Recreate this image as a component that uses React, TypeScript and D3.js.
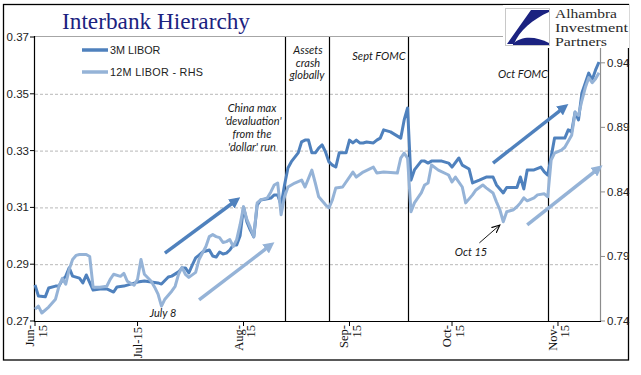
import React from "react";
import * as d3 from "d3";

// ---------- data ----------
const titleText = "Interbank Hierarchy";
const seriesNames = ["3M LIBOR", "12M LIBOR - RHS"];
const leftTicks = [0.27, 0.29, 0.31, 0.33, 0.35, 0.37];
const rightTicks = [0.74, 0.79, 0.84, 0.89, 0.94];
const monthTicks = ["2015-06-01", "2015-07-01", "2015-08-01", "2015-09-01", "2015-10-01", "2015-11-01"];
const monthLabels = [["Jun-", "15"], ["Jul-15"], ["Aug-", "15"], ["Sep-", "15"], ["Oct-", "15"], ["Nov-", "15"]];
const logoLines = ["Alhambra", "Investment", "Partners"];

const libor3m: [string, number][] = [
  ["2015-06-01", 0.2827], ["2015-06-02", 0.2788], ["2015-06-04", 0.2785], ["2015-06-05", 0.2816],
  ["2015-06-07", 0.2823], ["2015-06-08", 0.2823], ["2015-06-09", 0.2844], ["2015-06-10", 0.2858],
  ["2015-06-11", 0.2887], ["2015-06-12", 0.2858], ["2015-06-14", 0.2851], ["2015-06-15", 0.2834],
  ["2015-06-16", 0.2862], ["2015-06-18", 0.2809], ["2015-06-20", 0.2813], ["2015-06-22", 0.2813],
  ["2015-06-24", 0.2802], ["2015-06-25", 0.282], ["2015-06-27", 0.2823], ["2015-06-29", 0.283],
  ["2015-07-01", 0.2837], ["2015-07-03", 0.2841], ["2015-07-05", 0.2837], ["2015-07-07", 0.2834],
  ["2015-07-08", 0.283], ["2015-07-10", 0.2855], ["2015-07-11", 0.2858], ["2015-07-13", 0.2873],
  ["2015-07-14", 0.2887], ["2015-07-15", 0.2887], ["2015-07-16", 0.2869], ["2015-07-17", 0.2897],
  ["2015-07-18", 0.2922], ["2015-07-19", 0.2932], ["2015-07-20", 0.2943], ["2015-07-22", 0.295],
  ["2015-07-23", 0.2929], ["2015-07-24", 0.2925], ["2015-07-25", 0.2943], ["2015-07-26", 0.2936],
  ["2015-07-27", 0.2939], ["2015-07-28", 0.295], ["2015-07-29", 0.2968], ["2015-07-30", 0.2968],
  ["2015-07-31", 0.3], ["2015-08-01", 0.3101], ["2015-08-02", 0.3049], ["2015-08-03", 0.302],
  ["2015-08-04", 0.2996], ["2015-08-05", 0.3108], ["2015-08-06", 0.3126], ["2015-08-08", 0.313],
  ["2015-08-09", 0.3133], ["2015-08-10", 0.3144], ["2015-08-11", 0.3144], ["2015-08-12", 0.3108],
  ["2015-08-13", 0.3179], ["2015-08-14", 0.3239], ["2015-08-15", 0.3261], ["2015-08-17", 0.3292],
  ["2015-08-18", 0.3331], ["2015-08-19", 0.3337], ["2015-08-20", 0.3337], ["2015-08-21", 0.3292],
  ["2015-08-22", 0.3292], ["2015-08-23", 0.3309], ["2015-08-24", 0.332], ["2015-08-25", 0.3295],
  ["2015-08-26", 0.326], ["2015-08-27", 0.3249], ["2015-08-28", 0.3242], ["2015-08-29", 0.3292],
  ["2015-08-30", 0.3292], ["2015-08-31", 0.3292], ["2015-09-01", 0.3337], ["2015-09-02", 0.3327],
  ["2015-09-03", 0.3337], ["2015-09-04", 0.3327], ["2015-09-05", 0.3327], ["2015-09-06", 0.333],
  ["2015-09-08", 0.3327], ["2015-09-09", 0.3337], ["2015-09-10", 0.3344], ["2015-09-11", 0.3373],
  ["2015-09-13", 0.3366], ["2015-09-16", 0.3344], ["2015-09-17", 0.3408], ["2015-09-18", 0.345],
  ["2015-09-19", 0.3196], ["2015-09-20", 0.3232], ["2015-09-22", 0.3263], ["2015-09-23", 0.3263],
  ["2015-09-24", 0.3256], ["2015-09-25", 0.3263], ["2015-09-27", 0.3263], ["2015-09-28", 0.3263],
  ["2015-09-30", 0.3256], ["2015-10-01", 0.3242], ["2015-10-03", 0.3274], ["2015-10-04", 0.3249],
  ["2015-10-06", 0.3235], ["2015-10-07", 0.3186], ["2015-10-09", 0.3196], ["2015-10-11", 0.3207],
  ["2015-10-13", 0.3207], ["2015-10-14", 0.3179], ["2015-10-16", 0.3151], ["2015-10-17", 0.317],
  ["2015-10-19", 0.317], ["2015-10-20", 0.317], ["2015-10-21", 0.3207], ["2015-10-22", 0.3165],
  ["2015-10-23", 0.3232], ["2015-10-24", 0.3232], ["2015-10-25", 0.3232], ["2015-10-27", 0.3242],
  ["2015-10-28", 0.3225], ["2015-10-29", 0.3214], ["2015-10-30", 0.3278], ["2015-10-31", 0.3344],
  ["2015-11-01", 0.3344], ["2015-11-03", 0.3344], ["2015-11-04", 0.3373], ["2015-11-05", 0.3366],
  ["2015-11-06", 0.3436], ["2015-11-07", 0.3408], ["2015-11-08", 0.3503], ["2015-11-09", 0.3538],
  ["2015-11-10", 0.3573], ["2015-11-11", 0.3549], ["2015-11-12", 0.3584], ["2015-11-13", 0.3612],
];

const libor12m: [string, number][] = [
  ["2015-06-01", 0.7492], ["2015-06-02", 0.7515], ["2015-06-03", 0.7462], ["2015-06-05", 0.7508],
  ["2015-06-07", 0.7569], ["2015-06-08", 0.7669], ["2015-06-09", 0.7731], ["2015-06-10", 0.7685],
  ["2015-06-11", 0.78], ["2015-06-12", 0.7877], ["2015-06-13", 0.7908], ["2015-06-14", 0.7915],
  ["2015-06-16", 0.7915], ["2015-06-17", 0.79], ["2015-06-18", 0.7662], ["2015-06-20", 0.7662],
  ["2015-06-22", 0.7669], ["2015-06-23", 0.7723], ["2015-06-24", 0.7762], ["2015-06-26", 0.7746],
  ["2015-06-27", 0.7769], ["2015-06-28", 0.7708], ["2015-06-30", 0.7677], ["2015-07-01", 0.7723],
  ["2015-07-02", 0.7877], ["2015-07-03", 0.7762], ["2015-07-05", 0.7708], ["2015-07-06", 0.7662],
  ["2015-07-07", 0.7608], ["2015-07-08", 0.7515], ["2015-07-09", 0.7569], ["2015-07-11", 0.7631],
  ["2015-07-12", 0.7669], ["2015-07-13", 0.7762], ["2015-07-14", 0.7815], ["2015-07-15", 0.7762],
  ["2015-07-16", 0.7738], ["2015-07-18", 0.7777], ["2015-07-19", 0.7877], ["2015-07-21", 0.7977],
  ["2015-07-22", 0.8054], ["2015-07-23", 0.8069], ["2015-07-24", 0.8054], ["2015-07-25", 0.8046],
  ["2015-07-26", 0.8008], ["2015-07-27", 0.8015], ["2015-07-28", 0.8031], ["2015-07-29", 0.7977],
  ["2015-07-30", 0.8031], ["2015-07-31", 0.8146], ["2015-08-01", 0.8285], ["2015-08-02", 0.8185],
  ["2015-08-03", 0.8123], ["2015-08-04", 0.8054], ["2015-08-05", 0.8315], ["2015-08-06", 0.8338],
  ["2015-08-08", 0.8354], ["2015-08-09", 0.84], ["2015-08-10", 0.8454], ["2015-08-11", 0.8469],
  ["2015-08-12", 0.8223], ["2015-08-13", 0.8362], ["2015-08-14", 0.8438], ["2015-08-16", 0.8469],
  ["2015-08-18", 0.8492], ["2015-08-19", 0.8438], ["2015-08-21", 0.8569], ["2015-08-22", 0.8469],
  ["2015-08-23", 0.8362], ["2015-08-25", 0.83], ["2015-08-26", 0.8277], ["2015-08-27", 0.8338],
  ["2015-08-28", 0.8431], ["2015-08-30", 0.8438], ["2015-09-02", 0.8554], ["2015-09-03", 0.8515],
  ["2015-09-05", 0.8554], ["2015-09-08", 0.8592], ["2015-09-09", 0.8546], ["2015-09-11", 0.8554],
  ["2015-09-15", 0.8546], ["2015-09-16", 0.8662], ["2015-09-17", 0.87], ["2015-09-18", 0.8662],
  ["2015-09-19", 0.8246], ["2015-09-20", 0.8315], ["2015-09-22", 0.8392], ["2015-09-23", 0.8454],
  ["2015-09-24", 0.8469], ["2015-09-25", 0.8608], ["2015-09-27", 0.8569], ["2015-09-30", 0.8531],
  ["2015-10-01", 0.8477], ["2015-10-02", 0.8515], ["2015-10-04", 0.8438], ["2015-10-05", 0.8315],
  ["2015-10-07", 0.8377], ["2015-10-08", 0.8415], ["2015-10-10", 0.8454], ["2015-10-11", 0.8431],
  ["2015-10-13", 0.8392], ["2015-10-14", 0.8323], ["2015-10-15", 0.8262], ["2015-10-16", 0.8169],
  ["2015-10-17", 0.8246], ["2015-10-19", 0.8262], ["2015-10-20", 0.8285], ["2015-10-21", 0.8315],
  ["2015-10-22", 0.8354], ["2015-10-23", 0.8331], ["2015-10-25", 0.8354], ["2015-10-26", 0.8377],
  ["2015-10-28", 0.8385], ["2015-10-29", 0.8362], ["2015-10-30", 0.8646], ["2015-10-31", 0.87],
  ["2015-11-02", 0.8723], ["2015-11-03", 0.8746], ["2015-11-05", 0.8838], ["2015-11-06", 0.9015],
  ["2015-11-07", 0.8992], ["2015-11-08", 0.9108], ["2015-11-09", 0.9208], ["2015-11-10", 0.9285],
  ["2015-11-11", 0.9246], ["2015-11-12", 0.9277], ["2015-11-13", 0.9323],
];

const eventDates = ["2015-08-13", "2015-08-26", "2015-09-18", "2015-10-29"];

// trend arrows: [axis, series, fromDate, fromValue, toDate, toValue]
const trendArrows: [string, number, string, number, string, number][] = [
  ["L", 0, "2015-07-09", 0.2939, "2015-07-30", 0.3126],
  ["R", 1, "2015-07-19", 0.7563, "2015-08-09", 0.7989],
  ["L", 0, "2015-10-13", 0.3256, "2015-11-03", 0.3454],
  ["R", 1, "2015-10-23", 0.8144, "2015-11-13", 0.8585],
];
const oct15Arrow: [string, number, string, number] = ["2015-10-09", 0.2975, "2015-10-15", 0.3038];

// ---------- layout ----------
const W = 641;
const H = 375;
const plotLeft = 35;
const plotRight = 599;
const plotTop = 37;
const plotBottom = 321;
const DARK = "#4F81BD";
const LIGHT = "#95B3D7";
const NAVY = "#1b2280";
const SANS = "'Liberation Sans', Arial, sans-serif";
const SERIF = "'Liberation Serif', 'Times New Roman', serif";
const ITAL = "Lato, 'Open Sans', sans-serif";

const parse = d3.timeParse("%Y-%m-%d");

export default function App() {
  const x = d3.scaleTime()
    .domain([parse("2015-06-01") as Date, parse("2015-11-13") as Date])
    .range([plotLeft, plotRight]);
  const yL = d3.scaleLinear().domain([0.27, 0.37]).range([plotBottom, plotTop]);
  const yR = d3.scaleLinear().domain([0.74, 0.96]).range([plotBottom, plotTop]);

  const line3 = d3.line<[string, number]>()
    .x((d) => x(parse(d[0]) as Date))
    .y((d) => yL(d[1]));
  const line12 = d3.line<[string, number]>()
    .x((d) => x(parse(d[0]) as Date))
    .y((d) => yR(d[1]));

  const axisRight = plotRight + 1;
  const logoWidths = [62, 73, 52];

  return (
    <svg width={W} height={H} style={{ position: "absolute", left: 0, top: 0, background: "#fff" }}>
      <defs>
        <marker id="headDark" viewBox="0 0 10 10" refX="6" refY="5" markerWidth="3.2" markerHeight="3.2" orient="auto">
          <path d="M0,0 L10,5 L0,10 Z" fill={DARK} />
        </marker>
        <marker id="headLight" viewBox="0 0 10 10" refX="6" refY="5" markerWidth="3.2" markerHeight="3.2" orient="auto">
          <path d="M0,0 L10,5 L0,10 Z" fill={LIGHT} />
        </marker>
        <marker id="headThin" viewBox="0 0 10 10" refX="9" refY="5" markerWidth="9" markerHeight="9" orient="auto" markerUnits="userSpaceOnUse">
          <path d="M0,1 L9,5 L0,9" fill="none" stroke="#000" strokeWidth="1.2" />
        </marker>
      </defs>
      <rect x={0} y={0} width={W} height={H} fill="#fff" />
      <rect x={3.5} y={4.5} width={625} height={355.5} fill="none" stroke="#000" strokeWidth={1.3} />

      {/* gridlines */}
      {leftTicks.filter((t) => t > 0.27 && t < 0.37).map((t) => (
        <line key={"g" + t} x1={plotLeft} x2={axisRight} y1={yL(t) + 0.5} y2={yL(t) + 0.5}
          stroke="#b8b8b8" strokeWidth={1} strokeDasharray="3,2" />
      ))}
      <line x1={plotLeft} x2={axisRight} y1={yL(0.37) - 0.5} y2={yL(0.37) - 0.5} stroke="#a6a6a6" strokeWidth={1} />

      {/* event lines */}
      {eventDates.map((d) => {
        const xx = Math.round(x(parse(d) as Date)) + 0.5;
        return <line key={d} x1={xx} x2={xx} y1={plotTop} y2={plotBottom} stroke="#000" strokeWidth={1.2} />;
      })}

      {/* axes */}
      <line x1={plotLeft - 0.5} x2={plotLeft - 0.5} y1={plotTop - 1} y2={plotBottom + 1} stroke="#000" strokeWidth={1.2} />
      {leftTicks.map((t) => (
        <g key={"l" + t}>
          <line x1={plotLeft - 5} x2={plotLeft - 0.5} y1={yL(t)} y2={yL(t)} stroke="#000" strokeWidth={1} />
          <text x={plotLeft - 6} y={yL(t)} dy="0.35em" textAnchor="end" fontFamily={SANS} fontSize={11.5} fill="#222">
            {t.toFixed(2)}
          </text>
        </g>
      ))}
      <line x1={axisRight + 0.5} x2={axisRight + 0.5} y1={plotTop} y2={plotBottom + 1} stroke="#8c8c8c" strokeWidth={1.2} />
      {rightTicks.map((t) => (
        <g key={"r" + t}>
          <line x1={axisRight + 0.5} x2={axisRight + 5} y1={yR(t)} y2={yR(t)} stroke="#8c8c8c" strokeWidth={1} />
          <text x={axisRight + 7} y={yR(t)} dy="0.35em" textAnchor="start" fontFamily={SANS} fontSize={11.5} fill="#222">
            {t.toFixed(2)}
          </text>
        </g>
      ))}
      <line x1={plotLeft - 1} x2={axisRight + 1} y1={plotBottom + 0.5} y2={plotBottom + 0.5} stroke="#000" strokeWidth={1.2} />
      {monthTicks.map((m, i) => {
        const xx = x(parse(m) as Date);
        const lab = monthLabels[i];
        return (
          <g key={m}>
            <line x1={xx} x2={xx} y1={plotBottom} y2={plotBottom + 5} stroke="#000" strokeWidth={1} />
            {lab.length === 1 ? (
              <text transform={`translate(${xx + 4.5},${plotBottom + 6}) rotate(-90)`} textAnchor="end"
                fontFamily={SERIF} fontSize={12.5} fill="#111">{lab[0]}</text>
            ) : (
              <g>
                <text transform={`translate(${xx - 1},${plotBottom + 4}) rotate(-90)`} textAnchor="end"
                  fontFamily={SERIF} fontSize={12.5} fill="#111">{lab[0]}</text>
                <text transform={`translate(${xx + 11.5},${plotBottom + 4}) rotate(-90)`} textAnchor="end"
                  fontFamily={SERIF} fontSize={12.5} fill="#111">{lab[1]}</text>
              </g>
            )}
          </g>
        );
      })}

      {/* series */}
      <path d={line3(libor3m) || ""} fill="none" stroke={DARK} strokeWidth={3} strokeLinejoin="round" />
      <path d={line12(libor12m) || ""} fill="none" stroke={LIGHT} strokeWidth={3} strokeLinejoin="round" />

      {/* trend arrows */}
      {trendArrows.map((a, i) => {
        const ys = a[0] === "L" ? yL : yR;
        return (
          <line key={"ta" + i}
            x1={x(parse(a[2]) as Date)} y1={ys(a[3])} x2={x(parse(a[4]) as Date)} y2={ys(a[5])}
            stroke={a[1] === 0 ? DARK : LIGHT} strokeWidth={3.5}
            markerEnd={a[1] === 0 ? "url(#headDark)" : "url(#headLight)"} />
        );
      })}
      <line x1={x(parse(oct15Arrow[0]) as Date)} y1={yL(oct15Arrow[1])} x2={x(parse(oct15Arrow[2]) as Date)} y2={yL(oct15Arrow[3])}
        stroke="#000" strokeWidth={0.9} markerEnd="url(#headThin)" />

      {/* legend */}
      <line x1={82} x2={108} y1={50} y2={50} stroke={DARK} strokeWidth={3.5} />
      <text x={110} y={50} dy="0.36em" fontFamily={SANS} fontSize={10.8} fill="#222">{seriesNames[0]}</text>
      <line x1={82} x2={108} y1={72} y2={72} stroke={LIGHT} strokeWidth={3.5} />
      <text x={110} y={72} dy="0.36em" fontFamily={SANS} fontSize={10.8} fill="#222" letterSpacing="0.3">{seriesNames[1]}</text>

      {/* annotations */}
      <g fontFamily={ITAL} fontStyle="italic" fontSize={11} fill="#1a1a1a" textAnchor="middle">
        <text x={252} y={112}>China max</text>
        <text x={253} y={124.5}>'devaluation'</text>
        <text x={252} y={137.5}>from the</text>
        <text x={252} y={150.5}>'dollar' run</text>
        <text x={308} y={54}>Assets</text>
        <text x={308} y={66.5}>crash</text>
        <text x={307} y={79}>globally</text>
        <text x={379} y={59.5}>Sept FOMC</text>
        <text x={523} y={78}>Oct FOMC</text>
        <text x={163} y={316.5}>July 8</text>
        <text x={471} y={256}>Oct 15</text>
      </g>

      {/* title */}
      <text x={62} y={29} fontFamily={SERIF} fontSize={23} fill={NAVY} textLength={188} lengthAdjust="spacingAndGlyphs">
        {titleText}
      </text>

      {/* logo */}
      <rect x={503} y={5} width={126} height={43} fill="#fff" />
      <rect x={505.5} y={8.5} width={44} height={37} fill="#fff" stroke="#c8c8c8" strokeWidth={1} />
      <path d="M531,10 L549,10 L549,12 C533,19 519,31 514,44 L507,44 Z" fill={NAVY} />
      <path d="M513,44 C522,35 537,37 549,43 L549,45 L513,45 Z" fill={NAVY} />
      <g fontFamily={SERIF} fontSize={12} fill="#2a2a2a">
        {logoLines.map((t, i) => (
          <text key={t} x={555} y={18 + i * 14} textLength={logoWidths[i]} lengthAdjust="spacingAndGlyphs">{t}</text>
        ))}
      </g>
    </svg>
  );
}
